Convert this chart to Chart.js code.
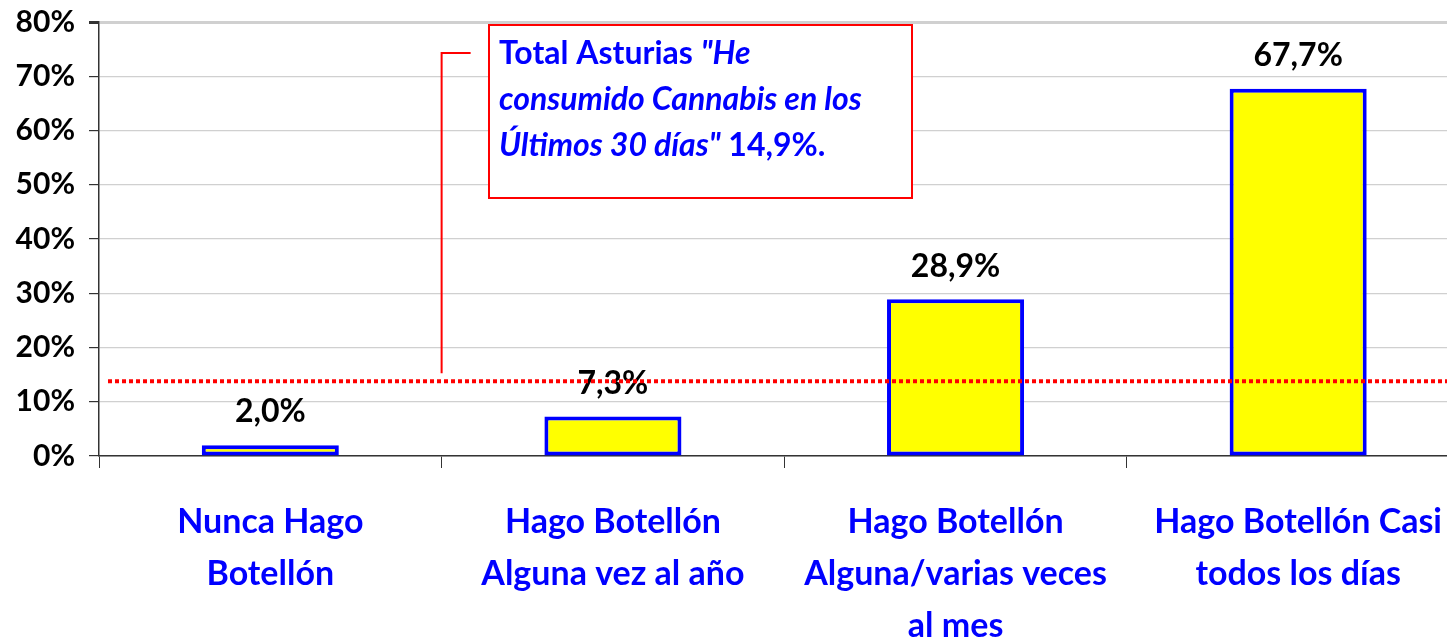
<!DOCTYPE html>
<html lang="es">
<head>
<meta charset="utf-8">
<script src="https://cdn.jsdelivr.net/npm/chart.js@4.4.1/dist/chart.umd.min.js"></script>
<style>
  html, body { margin: 0; padding: 0; background: #fff; overflow: hidden; }
</style>
</head>
<body>
<canvas id="grafico" width="1470" height="640"></canvas>
<script>
// Datos del gráfico
const categorias = [
    ['Nunca Hago', 'Botellón'],
    ['Hago Botellón', 'Alguna vez al año'],
    ['Hago Botellón', 'Alguna/varias veces', 'al mes'],
    ['Hago Botellón Casi', 'todos los días']
];
const valores = [2.0, 7.3, 28.9, 67.7];
const lineaTotal = 13.8; // posición de la línea punteada
const ticksY = [0, 10, 20, 30, 40, 50, 60, 70, 80];
const textoCaja = [
    [{ t: 'Total Asturias ', it: false }, { t: '"He', it: true }],
    [{ t: 'consumido Cannabis en los', it: true }],
    [{ t: 'Últimos 30 días"', it: true }, { t: ' 14,9%.', it: false }]
];

const FUENTE = 'Lato';

// Etiquetas, línea punteada y caja de texto
const extras = {
    id: 'extras',
    afterDatasetsDraw(chart) {
        const { ctx, chartArea, scales: { x, y } } = chart;
        ctx.save();

        // etiquetas de valor
        ctx.font = 'bold 32px ' + FUENTE;
        ctx.fillStyle = '#000';
        ctx.textAlign = 'center';
        ctx.textBaseline = 'bottom';
        chart.getDatasetMeta(0).data.forEach((bar, i) => {
            ctx.fillText(valores[i].toFixed(1).replace('.', ',') + '%', bar.x, bar.y - 17);
        });

        // línea punteada roja
        const yT = y.getPixelForValue(lineaTotal);
        ctx.strokeStyle = '#FF0000';
        ctx.lineWidth = 4;
        ctx.setLineDash([4, 3]);
        ctx.beginPath();
        ctx.moveTo(chartArea.left + 9, yT);
        ctx.lineTo(chartArea.right, yT);
        ctx.stroke();
        ctx.setLineDash([]);

        // conector
        const xc = (x.getPixelForValue(0) + x.getPixelForValue(1)) / 2;
        ctx.lineWidth = 2;
        ctx.beginPath();
        ctx.moveTo(xc, yT - 8);
        ctx.lineTo(xc, 53);
        ctx.lineTo(xc + 29, 53);
        ctx.stroke();

        // caja
        const bx = 489, by = 25, bw = 423, bh = 173;
        ctx.fillStyle = '#fff';
        ctx.fillRect(bx, by, bw, bh);
        ctx.strokeRect(bx, by, bw, bh);

        ctx.fillStyle = '#0000FF';
        ctx.textAlign = 'left';
        ctx.textBaseline = 'middle';
        textoCaja.forEach((linea, i) => {
            let px = bx + 10;
            const py = 54 + i * 46;
            linea.forEach(seg => {
                ctx.font = (seg.it ? 'italic ' : '') + 'bold 32px ' + FUENTE;
                ctx.fillText(seg.t, px, py);
                px += ctx.measureText(seg.t).width;
            });
        });
        ctx.restore();
    }
};

new Chart(document.getElementById('grafico'), {
    type: 'bar',
    data: {
        labels: categorias,
        datasets: [{
            data: valores,
            backgroundColor: '#FFFF00',
            borderColor: '#0000FF',
            borderWidth: 4,
            borderSkipped: false,
            barPercentage: 0.4,
            categoryPercentage: 1.0
        }]
    },
    options: {
        responsive: false,
        animation: false,
        layout: { padding: { top: 22, right: 0, left: 0, bottom: 0 } },
        plugins: {
            legend: { display: false },
            tooltip: { enabled: false }
        },
        scales: {
            x: {
                offset: true,
                grid: { offset: true, drawOnChartArea: false, tickLength: 12, color: '#333' },
                border: { color: '#333', width: 1.5 },
                ticks: {
                    autoSkip: false,
                    maxRotation: 0,
                    color: '#0000FF',
                    padding: 28,
                    font: { family: FUENTE, weight: 'bold', size: 34, lineHeight: 1.53 }
                },
                afterFit: s => { s.height = 184; }
            },
            y: {
                min: 0,
                max: 80,
                afterBuildTicks: s => { s.ticks = ticksY.map(v => ({ value: v })); },
                grid: {
                    color: '#d0d0d0',
                    lineWidth: c => (c.tick && c.tick.value === 80 ? 3 : 1.2),
                    tickColor: '#333',
                    tickLength: 10
                },
                border: { color: '#333', width: 1.5 },
                ticks: {
                    color: '#000',
                    padding: 14,
                    font: { family: FUENTE, weight: 'bold', size: 30, lineHeight: 0.5 },
                    callback: v => v + '%'
                },
                afterFit: s => { s.width = 99; }
            }
        }
    },
    plugins: [extras]
});
</script>
</body>
</html>
